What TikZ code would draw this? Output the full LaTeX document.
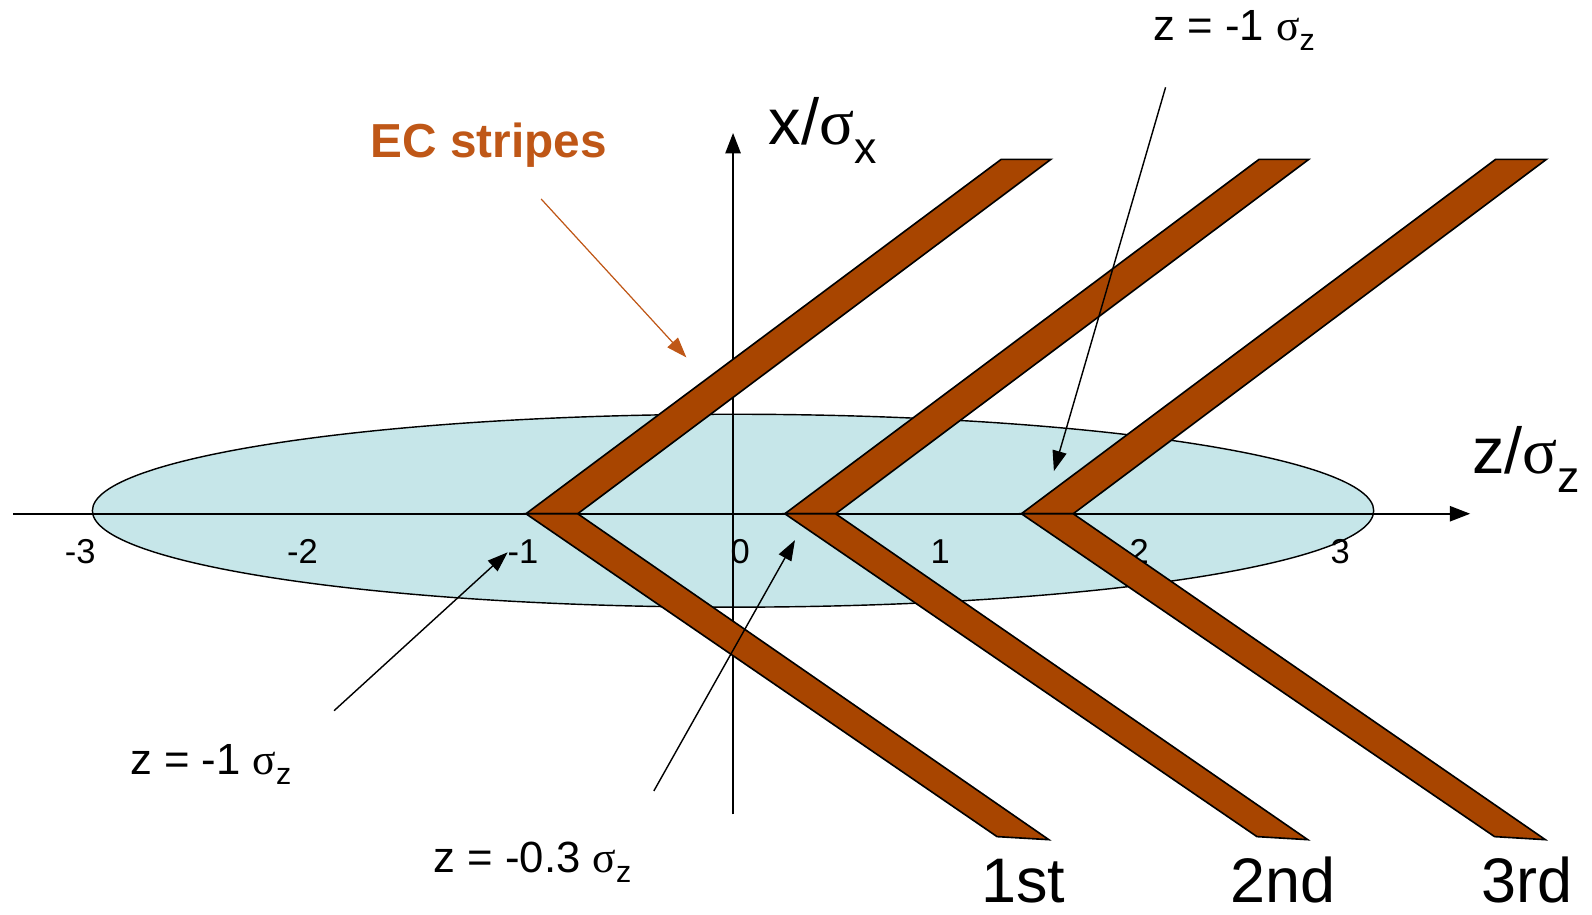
\documentclass[tikz,border=0pt]{standalone}
\usepackage{fontspec}
\setmainfont{Liberation Sans}
\newfontfamily\sigfont{Liberation Serif}
\usetikzlibrary{arrows.meta}
\definecolor{ecbrown}{RGB}{168,69,0}
\definecolor{ecfill}{RGB}{198,230,233}
\definecolor{ecorange}{RGB}{191,87,23}
\newcommand\fs[1]{\fontsize{#1}{#1}\selectfont}
\begin{document}
\begin{tikzpicture}[x=1pt,y=-1pt,
  axisline/.style={line width=1.8pt,-{Triangle[length=20pt,width=15pt]}},
  pointer/.style={line width=1.4pt,-{Triangle[length=20pt,width=14pt]}},
  stripe/.style={fill=ecbrown,draw=black,line width=1.6pt,line join=miter},
  lbl/.style={inner sep=0pt,anchor=base west},
  tick/.style={inner sep=0pt,anchor=base,font=\fs{34}}]
\useasboundingbox (0,0) rectangle (1568,901);
% beam ellipse
\draw[fill=ecfill,line width=1.4pt] (722,503) ellipse [x radius=631, y radius=95];
% axes
\coordinate (zstart) at (13,506);
\coordinate (zend) at (1448,506);
\coordinate (xstart) at (722,802);
\coordinate (xend) at (722,131);
\draw[axisline] (zstart) -- (zend);
\draw[axisline] (xstart) -- (xend);
% ticks
\node[tick] (tm3) at (79,555) {-3};
\node[tick] (tm2) at (298,555) {-2};
\node[tick] (tm1) at (515,555) {-1};
\node[tick] (t0) at (729,555) {0};
\node[tick] (t1) at (926,555) {1};
\node[tick] (t2) at (1122,555) {2};
\node[tick] (t3) at (1320,555) {3};
% stripes
\foreach \v/\i/\ta/\tb/\ba/\bb in {518/569/986/1035/982/1033, 773/823/1240/1289/1238/1288, 1006/1057/1473/1523/1472/1522}{
  \draw[stripe] (\v,506) -- (\ta,157) -- (\tb,157) -- (\i,506) -- cycle;
  \draw[stripe] (\v,506) -- (\ba,824) -- (\bb,827) -- (\i,506) -- cycle;
}
% labels
\node[lbl,font=\fs{47}\bfseries,text=ecorange] (ec) at (365,155) {EC stripes};
\node[lbl,font=\fs{64}] (xlab) at (757,142) {x/{\sigfont σ}\raisebox{-19pt}{\fs{44}x}};
\node[lbl,font=\fs{64}] (zlab) at (1450,466) {z/{\sigfont σ}\raisebox{-19pt}{\fs{44}z}};
\node[lbl,font=\fs{43}] (ztop) at (1136,40) {z = -1 {\sigfont σ}\raisebox{-10pt}{\fs{30}z}};
\node[lbl,font=\fs{43}] (zleft) at (128,763) {z = -1 {\sigfont σ}\raisebox{-10pt}{\fs{30}z}};
\node[lbl,font=\fs{43}] (zmid) at (427,859) {z = -0.3 {\sigfont σ}\raisebox{-10pt}{\fs{30}z}};
\node[lbl,font=\fs{62}] (first) at (966,889) {1st};
\node[lbl,font=\fs{62}] (second) at (1212,889) {2nd};
\node[lbl,font=\fs{62}] (third) at (1459,889) {3rd};
% pointers
\coordinate (ecs) at (533,196);
\coordinate (ect) at (676,352);
\draw[pointer,draw=ecorange,fill=ecorange,line width=1.2pt] (ecs) -- (ect);
\coordinate (tops) at (1148,86);
\coordinate (topt) at (1038,464);
\draw[pointer] (tops) -- (topt);
\coordinate (lefts) at (329,700);
\coordinate (leftt) at (500,544);
\draw[pointer] (lefts) -- (leftt);
\coordinate (mids) at (644,779);
\coordinate (midt) at (783,532);
\draw[pointer] (mids) -- (midt);
\end{tikzpicture}
\end{document}
